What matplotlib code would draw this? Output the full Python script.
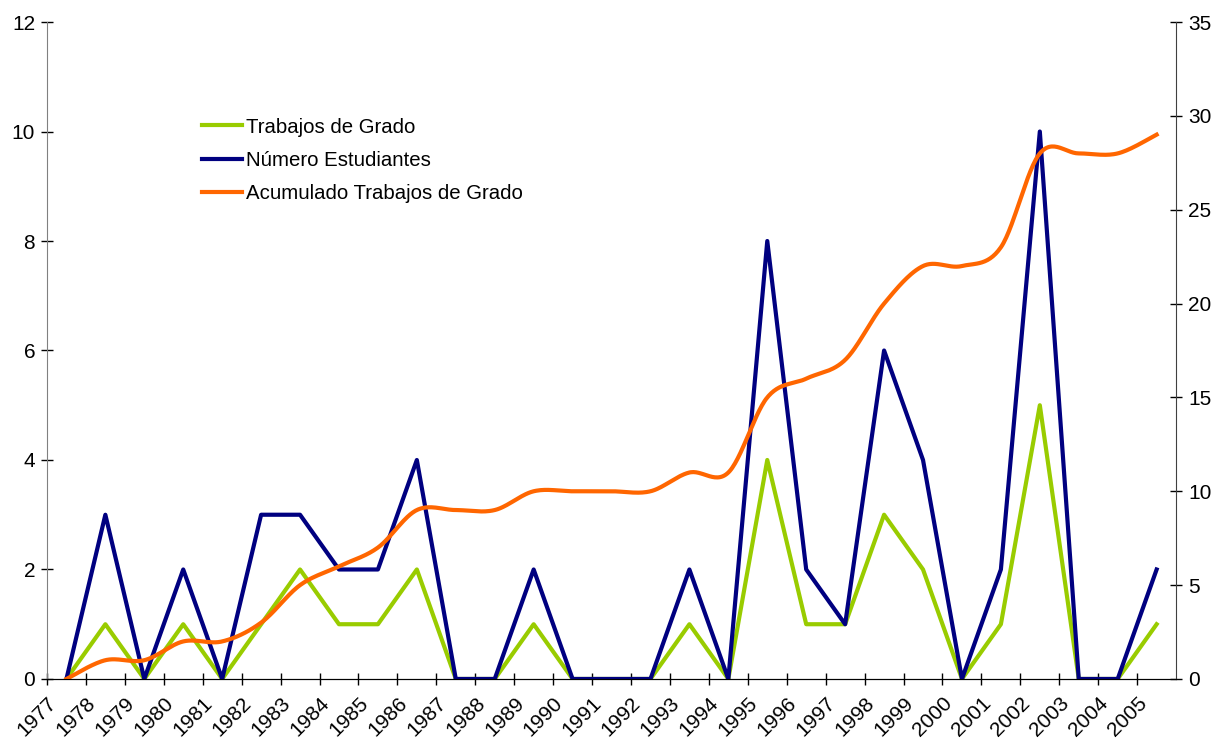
import numpy as np
import matplotlib
matplotlib.use('Agg')
import matplotlib.pyplot as plt
import matplotlib.transforms as mtransforms

plt.rcParams['font.family'] = ['Liberation Sans', 'DejaVu Sans']

years = list(range(1977, 2006))
trabajos = [0, 1, 0, 1, 0, 1, 2, 1, 1, 2, 0, 0, 1, 0, 0, 0, 1, 0, 4, 1, 1, 3, 2, 0, 1, 5, 0, 0, 1]
estudiantes = [0, 3, 0, 2, 0, 3, 3, 2, 2, 4, 0, 0, 2, 0, 0, 0, 2, 0, 8, 2, 1, 6, 4, 0, 2, 10, 0, 0, 2]
acumulado = [0, 1, 1, 2, 2, 3, 5, 6, 7, 9, 9, 9, 10, 10, 10, 10, 11, 11, 15, 16, 17, 20, 22, 22, 23, 28, 28, 28, 29]

GREEN = '#99CC00'
NAVY = '#000080'
ORANGE = '#FF6600'


def smooth(x, y, n=30):
    # Catmull-Rom style smoothing, like Excel's "smoothed line"
    x = np.asarray(x, float)
    y = np.asarray(y, float)
    px = np.concatenate([[x[0]], x, [x[-1]]])
    py = np.concatenate([[y[0]], y, [y[-1]]])
    xs, ys = [], []
    t = np.linspace(0, 1, n)
    for i in range(1, len(px) - 2):
        p0, p1, p2, p3 = (np.array([px[j], py[j]]) for j in range(i - 1, i + 3))
        c1 = p1 + (p2 - p0) / 6
        c2 = p2 - (p3 - p1) / 6
        b = ((1 - t) ** 3)[:, None] * p1 + (3 * (1 - t) ** 2 * t)[:, None] * c1 \
            + (3 * (1 - t) * t ** 2)[:, None] * c2 + (t ** 3)[:, None] * p2
        xs.append(b[:, 0])
        ys.append(b[:, 1])
    return np.concatenate(xs), np.concatenate(ys)


fig = plt.figure(figsize=(12.26, 7.44), dpi=100)
ax = fig.add_axes([0.0383, 0.0874, 0.9210, 0.8830])
ax2 = ax.twinx()

xpos = np.arange(len(years))
l1, = ax.plot(xpos, trabajos, color=GREEN, lw=3, label='Trabajos de Grado', zorder=2)
l2, = ax.plot(xpos, estudiantes, color=NAVY, lw=3, label='Número Estudiantes', zorder=3)
sx, sy = smooth(xpos, acumulado)
l3, = ax2.plot(sx, sy, color=ORANGE, lw=3, label='Acumulado Trabajos de Grado')

ax.set_xlim(-0.5, len(years) - 0.5)
ax.set_ylim(0, 12)
ax2.set_ylim(0, 35)
ax.set_yticks(range(0, 13, 2))
ax2.set_yticks(range(0, 36, 5))

ax.set_xticks(xpos - 0.5)
offset = mtransforms.ScaledTranslation(9 / 100, 0, fig.dpi_scale_trans)
ax.set_xticklabels([str(y) for y in years], rotation=45, ha='right',
                   va='top', rotation_mode='anchor')
for lab in ax.get_xticklabels():
    lab.set_transform(lab.get_transform() + offset)

for a in (ax, ax2):
    a.spines['top'].set_visible(False)
    a.tick_params(direction='inout', length=9, width=1, labelsize=15, pad=4)
ax.spines['left'].set_color('#808080')
ax2.spines['right'].set_color('#404040')
ax2.spines['left'].set_visible(False)
ax.spines['right'].set_visible(False)
ax.tick_params(axis='x', labelsize=15, pad=6)

fig.legend(handles=[l1, l2, l3], loc='upper left', bbox_to_anchor=(0.158, 0.853),
           frameon=False, fontsize=14.7, handlelength=1.96, handletextpad=0.2,
           labelspacing=0.7, borderaxespad=0)

fig.savefig('out.png', dpi=100)
